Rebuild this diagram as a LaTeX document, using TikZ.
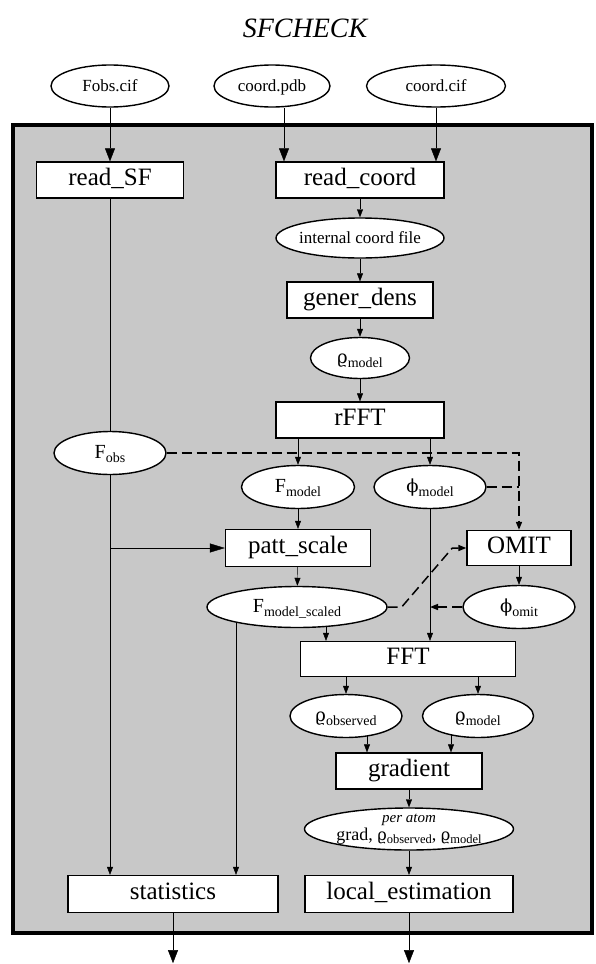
\documentclass[tikz,border=0pt]{standalone}
\usepackage{fontspec}
\setmainfont{Liberation Serif}
\newfontfamily\dvserif[Scale=0.9]{DejaVu Serif}
\usetikzlibrary{arrows.meta,calc,shapes.geometric}
\pgfdeclarelayer{bg}
\pgfdeclarelayer{lines}
\pgfsetlayers{bg,lines,main}
\definecolor{framegray}{RGB}{200,200,200}
\newcommand{\subtx}[1]{\raisebox{-3.5pt}{\fontsize{14}{14}\selectfont #1}}
\newcommand{\subsm}[1]{\raisebox{-3pt}{\fontsize{12.5}{13}\selectfont #1}}
\newcommand{\ectr}[1]{\smash{\makebox[0pt]{\raisebox{-0.33em}{#1}}}}
\newcommand{\bigtx}[1]{{\fontsize{20}{20}\selectfont #1}}
\newcommand{\rh}{{\dvserif ϱ}}
\newcommand{\ph}{{\dvserif ϕ}}
\begin{document}
\begin{tikzpicture}[x=1pt,y=-1pt,line width=1.2pt,
  pbox/.style={draw,fill=white,rectangle,inner sep=0pt,minimum height=36pt,line width=1.3pt,
    font=\fontsize{25}{30}\selectfont,text height=16pt,text depth=5pt},
  ell/.style={draw,fill=white,ellipse,inner sep=0pt,line width=1.4pt,minimum height=42pt,
    font=\fontsize{17}{20}\selectfont},
  sarr/.style={-{Triangle[length=8pt,width=6pt]}},
  barr/.style={-{Triangle[length=13pt,width=10pt]}},
  marr/.style={-{Triangle[length=15pt,width=9pt]}},
  dsh/.style={dash pattern=on 10pt off 5pt,line width=1.5pt}]
\useasboundingbox (0,0) rectangle (595,964);
\begin{pgfonlayer}{bg}
\draw[line width=4pt,fill=framegray] (13,125) rectangle (592,933);
\end{pgfonlayer}
\node (title) at (305,28) {\fontsize{28}{30}\selectfont\itshape SFCHECK};
% top inputs
\node[ell,minimum width=118pt] (fobscif) at (110,86) {\ectr{Fobs.cif}};
\node[ell,minimum width=116pt] (coordpdb) at (272,86) {\ectr{coord.pdb}};
\node[ell,minimum width=139pt] (coordcif) at (436,86) {\ectr{coord.cif}};
% boxes and data
\node[pbox,minimum width=147pt] (readSF) at (110,180) {read\_SF};
\node[pbox,minimum width=168pt] (readcoord) at (360,180) {read\_coord};
\node[ell,minimum width=168pt,minimum height=40pt] (intcoord) at (360,238) {\ectr{internal coord file}};
\node[pbox,minimum width=146pt] (generdens) at (360,300) {gener\_dens};
\node[ell,minimum width=99pt,minimum height=41pt] (rhom1) at (360,358) {\ectr{\bigtx{\rh}\subtx{model}}};
\node[pbox,minimum width=168pt] (rfft) at (360,420) {rFFT};
\node[ell,minimum width=112pt,minimum height=43pt] (fobs) at (110,453) {\ectr{\bigtx{F}\subtx{obs}}};
\node[ell,minimum width=113pt,minimum height=43pt] (fmodel) at (298,487) {\ectr{\bigtx{F}\subtx{model}}};
\node[ell,minimum width=112pt,minimum height=43pt] (phimodel) at (430,487) {\ectr{\bigtx{\ph}\subtx{model}}};
\node[pbox,minimum width=145pt,minimum height=37pt] (pattscale) at (298,548) {patt\_scale};
\node[pbox,minimum width=104pt,minimum height=35pt] (omit) at (519,548) {OMIT};
\node[ell,minimum width=180pt,minimum height=41pt] (fms) at (297,607) {\ectr{\bigtx{F}\subtx{model\_scaled}}};
\node[ell,minimum width=112pt,minimum height=43pt] (phiomit) at (519,607) {\ectr{\bigtx{\ph}\subtx{omit}}};
\node[pbox,minimum width=215pt,minimum height=35pt] (fft) at (408,659) {FFT};
\node[ell,minimum width=112pt,minimum height=43pt] (rhoobs) at (346,716) {\ectr{\bigtx{\rh}\subtx{observed}}};
\node[ell,minimum width=111pt,minimum height=43pt] (rhom2) at (478,716) {\ectr{\bigtx{\rh}\subtx{model}}};
\node[pbox,minimum width=146pt] (gradient) at (409,771) {gradient};
\node[ell,minimum width=209pt,minimum height=42pt] (peratom) at (409,829)
  {\smash{\makebox[0pt]{\raisebox{7pt}{\fontsize{15}{15}\selectfont\itshape per atom}}%
   \makebox[0pt]{\raisebox{-11.5pt}{\fontsize{18}{18}\selectfont grad, \rh\subsm{observed}, \rh\subsm{model}}}}};
\node[pbox,minimum width=210pt,minimum height=37pt] (statistics) at (173,894) {statistics};
\node[pbox,minimum width=208pt,minimum height=37pt] (localest) at (409,894) {local\_estimation};
% helper coordinates
\coordinate (pdbin) at ($(readcoord.north)+(-76,0)$);
\coordinate (cifin) at ($(readcoord.north)+(76,0)$);
\coordinate (d1) at ($(fms.east)+(14,0)$);
\coordinate (d2) at ($(omit.west)+(-14,0)$);
\coordinate (fmsl) at ($(fms.center)+(-61,0)$);
\coordinate (fmsr) at ($(fms.center)+(29,0)$);
\coordinate (g1) at ($(gradient.north)+(-42,0)$);
\coordinate (g2) at ($(gradient.north)+(42,0)$);
\coordinate (out1) at ($(statistics.south)+(0,50)$);
\coordinate (out2) at ($(localest.south)+(0,50)$);
\begin{pgfonlayer}{lines}
\draw[barr] (fobscif) -- (readSF);
\draw[barr] (coordpdb.south -| pdbin) -- (pdbin);
\draw[barr] (coordcif.south -| cifin) -- (cifin);
\draw[sarr] (readcoord) -- (intcoord);
\draw[sarr] (intcoord) -- (generdens);
\draw[sarr] (generdens) -- (rhom1);
\draw[sarr] (rhom1) -- (rfft);
\draw[sarr] (readSF.south) -- (statistics.north -| readSF.south);
\draw[marr] (readSF.south |- pattscale.west) -- (pattscale.west);
\draw[sarr] (rfft.south -| fmodel) -- (fmodel.north);
\draw[sarr] (rfft.south -| phimodel) -- (phimodel.north);
\draw[sarr] (fmodel) -- (pattscale);
\draw[sarr] (pattscale) -- (fms);
\draw[sarr] (omit) -- (phiomit);
\draw[sarr] (phimodel.south) -- (fft.north -| phimodel.south);
\draw[sarr,dsh] (fobs.east) -- (fobs.east -| omit.north) -- (omit.north);
\draw[dsh] (phimodel.east) -- (phimodel.east -| omit.north);
\draw[sarr,dsh] (fms.east) -- (d1) -- (d2) -- (omit.west);
\draw[sarr,dsh] (phiomit.west) -- (phiomit.west -| phimodel.south);
\draw[sarr] (fmsl) -- (statistics.north -| fmsl);
\draw[sarr] (fmsr) -- (fft.north -| fmsr);
\draw[sarr] (fft.south -| rhoobs) -- (rhoobs.north);
\draw[sarr] (fft.south -| rhom2) -- (rhom2.north);
\draw[sarr] (rhoobs.center -| g1) -- (g1);
\draw[sarr] (rhom2.center -| g2) -- (g2);
\draw[sarr] (gradient) -- (peratom);
\draw[sarr] (peratom) -- (localest);
\draw[barr] (statistics.south) -- (out1);
\draw[barr] (localest.south) -- (out2);
\end{pgfonlayer}
\end{tikzpicture}
\end{document}
